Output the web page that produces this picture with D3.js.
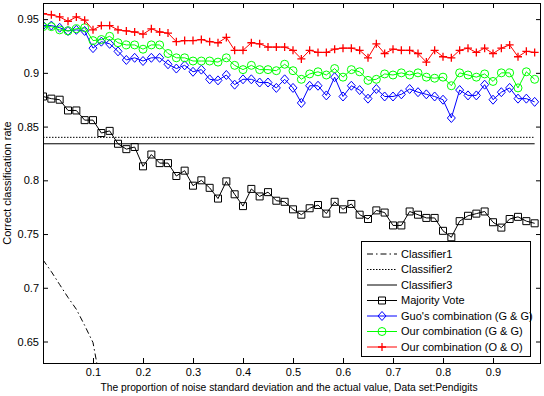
<!DOCTYPE html>
<html>
<head>
<meta charset="utf-8">
<script src="https://cdn.jsdelivr.net/npm/d3@7"></script>
<style>
  html, body { margin: 0; padding: 0; background: #fff; }
  svg { display: block; font-family: "Liberation Sans", Arial, sans-serif; }
</style>
</head>
<body>
<div class="container"></div>
<script>
// noise proportion (x) for every sample
const noiseLevels = [
  0, 0.0167, 0.0333, 0.05, 0.0667, 0.0833, 0.1, 0.1167, 0.1333, 0.15,
  0.1667, 0.1833, 0.2, 0.2167, 0.2333, 0.25, 0.2667, 0.2833, 0.3, 0.3167,
  0.3333, 0.35, 0.3667, 0.3833, 0.4, 0.4167, 0.4333, 0.45, 0.4667, 0.4833,
  0.5, 0.5167, 0.5333, 0.55, 0.5667, 0.5833, 0.6, 0.6167, 0.6333, 0.65,
  0.6667, 0.6833, 0.7, 0.7167, 0.7333, 0.75, 0.7667, 0.7833, 0.8, 0.8167,
  0.8333, 0.85, 0.8667, 0.8833, 0.9, 0.9167, 0.9333, 0.95, 0.9667, 0.9833,
];

// only the first points of classifier1 are inside the axes
const classifier1 = [0.726, 0.715, 0.703, 0.691, 0.680, 0.665, 0.649, 0.607];
const classifier2 = 0.840;
const classifier3 = 0.834;

const majorityVote = [
  0.878, 0.876, 0.875, 0.865, 0.865, 0.856, 0.856, 0.844, 0.846, 0.834,
  0.829, 0.831, 0.813, 0.824, 0.816, 0.816, 0.804, 0.809, 0.795, 0.800,
  0.793, 0.783, 0.799, 0.787, 0.776, 0.792, 0.785, 0.789, 0.781, 0.780,
  0.773, 0.768, 0.774, 0.777, 0.769, 0.780, 0.773, 0.778, 0.768, 0.764,
  0.772, 0.770, 0.758, 0.758, 0.771, 0.768, 0.765, 0.765, 0.753, 0.747,
  0.762, 0.767, 0.769, 0.771, 0.761, 0.756, 0.764, 0.766, 0.762, 0.760,
];

const guoGG = [
  0.944, 0.944, 0.942, 0.939, 0.940, 0.939, 0.923, 0.929, 0.927, 0.920,
  0.912, 0.914, 0.911, 0.914, 0.914, 0.908, 0.904, 0.907, 0.901, 0.903,
  0.894, 0.893, 0.898, 0.889, 0.894, 0.894, 0.891, 0.891, 0.886, 0.894,
  0.886, 0.872, 0.888, 0.888, 0.879, 0.896, 0.878, 0.888, 0.884, 0.876,
  0.885, 0.878, 0.878, 0.880, 0.885, 0.882, 0.880, 0.878, 0.875, 0.858,
  0.884, 0.879, 0.879, 0.889, 0.875, 0.882, 0.886, 0.876, 0.876, 0.873,
];

const ourGG = [
  0.943, 0.943, 0.940, 0.939, 0.941, 0.942, 0.930, 0.931, 0.934, 0.928,
  0.926, 0.926, 0.922, 0.926, 0.926, 0.918, 0.914, 0.914, 0.911, 0.911,
  0.911, 0.910, 0.914, 0.907, 0.903, 0.907, 0.903, 0.903, 0.902, 0.908,
  0.902, 0.894, 0.899, 0.901, 0.898, 0.904, 0.896, 0.903, 0.901, 0.893,
  0.894, 0.899, 0.898, 0.900, 0.898, 0.900, 0.896, 0.895, 0.896, 0.888,
  0.900, 0.898, 0.896, 0.899, 0.892, 0.900, 0.900, 0.886, 0.901, 0.894,
];

const ourOO = [
  0.955, 0.954, 0.952, 0.948, 0.952, 0.949, 0.940, 0.944, 0.944, 0.940,
  0.939, 0.938, 0.936, 0.941, 0.938, 0.937, 0.929, 0.930, 0.930, 0.931,
  0.929, 0.928, 0.933, 0.921, 0.921, 0.928, 0.927, 0.924, 0.924, 0.924,
  0.921, 0.913, 0.921, 0.919, 0.919, 0.922, 0.923, 0.923, 0.921, 0.914,
  0.927, 0.918, 0.922, 0.921, 0.921, 0.918, 0.910, 0.921, 0.915, 0.914,
  0.921, 0.923, 0.919, 0.923, 0.918, 0.923, 0.926, 0.915, 0.920, 0.919,
];

const xTicks = [0.1, 0.2, 0.3, 0.4, 0.5, 0.6, 0.7, 0.8, 0.9];
const yTicks = [0.65, 0.7, 0.75, 0.8, 0.85, 0.9, 0.95];

const legendLabels = [
  "Classifier1",
  "Classifier2",
  "Classifier3",
  "Majority Vote",
  "Guo's combination (G & G)",
  "Our combination (G & G)",
  "Our combination (O & O)",
];

const width = 544;
const height = 396;
const plot = { left: 43, right: 541, top: 3, bottom: 363 };

const svg = d3
  .select(".container")
  .append("svg")
  .attr("width", width)
  .attr("height", height);

const x = d3.scaleLinear().domain([0, 0.996]).range([plot.left, plot.right]);
const y = d3.scaleLinear().domain([0.63, 0.965]).range([plot.bottom, plot.top]);

svg
  .append("defs")
  .append("clipPath")
  .attr("id", "plot-clip")
  .append("rect")
  .attr("x", plot.left)
  .attr("y", plot.top)
  .attr("width", plot.right - plot.left)
  .attr("height", plot.bottom - plot.top);

const markers = {
  square: "M-3.5,-3.5h7v7h-7Z",
  diamond: "M0,-4.5L4,0L0,4.5L-4,0Z",
  plus: "M-4,0H4M0,-4V4",
};

function drawMarker(g, kind, cx, cy, color) {
  if (kind === "circle") {
    g.append("circle")
      .attr("cx", cx)
      .attr("cy", cy)
      .attr("r", 4)
      .attr("fill", "none")
      .attr("stroke", color);
    return;
  }
  g.append("path")
    .attr("d", markers[kind])
    .attr("transform", `translate(${cx},${cy})`)
    .attr("fill", "none")
    .attr("stroke", color)
    .attr("stroke-width", kind === "plus" ? 1.3 : 1);
}

const line = d3
  .line()
  .x((d) => x(d[0]))
  .y((d) => y(d[1]));

const plotArea = svg.append("g").attr("clip-path", "url(#plot-clip)");

function drawSeries(values, color, dash, marker) {
  const points = values.map((v, i) => [noiseLevels[i], v]);
  const g = plotArea.append("g");
  g.append("path")
    .attr("d", line(points))
    .attr("fill", "none")
    .attr("stroke", color)
    .attr("stroke-width", 1)
    .attr("stroke-dasharray", dash);
  if (marker) {
    points.forEach((p) => drawMarker(g, marker, x(p[0]), y(p[1]), color));
  }
}

function drawConstant(value, dash) {
  const first = noiseLevels[0];
  const last = noiseLevels[noiseLevels.length - 1];
  plotArea
    .append("line")
    .attr("x1", x(first))
    .attr("x2", x(last))
    .attr("y1", y(value))
    .attr("y2", y(value))
    .attr("stroke", "#000")
    .attr("stroke-width", 1)
    .attr("stroke-dasharray", dash);
}

drawSeries(classifier1, "#000", "6,3,1.5,3", null);
drawConstant(classifier2, "1.5,1.5");
drawConstant(classifier3, null);
drawSeries(majorityVote, "#000", null, "square");
drawSeries(guoGG, "#00f", null, "diamond");
drawSeries(ourGG, "#0f0", null, "circle");
drawSeries(ourOO, "#f00", null, "plus");

// axes, ticks inward on all four sides
function styleAxis(g) {
  g.select(".domain").remove();
  g.selectAll("line").attr("stroke", "#000");
  g.selectAll("text")
    .attr("fill", "#000")
    .style("font-size", "11px")
    .style("font-family", '"Liberation Sans", Arial, sans-serif');
}

svg
  .append("g")
  .attr("transform", `translate(0,${plot.bottom})`)
  .call(d3.axisBottom(x).tickValues(xTicks).tickSize(-5).tickPadding(5).tickFormat(d3.format("")))
  .call(styleAxis);

svg
  .append("g")
  .attr("transform", `translate(0,${plot.top})`)
  .call(d3.axisTop(x).tickValues(xTicks).tickSize(-5).tickFormat(""))
  .call(styleAxis);

svg
  .append("g")
  .attr("transform", `translate(${plot.left},0)`)
  .call(d3.axisLeft(y).tickValues(yTicks).tickSize(-5).tickPadding(4).tickFormat(d3.format("")))
  .call(styleAxis);

svg
  .append("g")
  .attr("transform", `translate(${plot.right},0)`)
  .call(d3.axisRight(y).tickValues(yTicks).tickSize(-5).tickFormat(""))
  .call(styleAxis);

svg
  .append("rect")
  .attr("x", plot.left + 0.5)
  .attr("y", plot.top + 0.5)
  .attr("width", plot.right - plot.left - 1)
  .attr("height", plot.bottom - plot.top)
  .attr("fill", "none")
  .attr("stroke", "#000");

svg
  .append("text")
  .attr("x", 289)
  .attr("y", 391)
  .attr("text-anchor", "middle")
  .style("font-size", "10.3px")
  .text("The proportion of noise standard deviation and the actual value, Data set:Pendigits");

svg
  .append("text")
  .attr("transform", `translate(11,${(plot.top + plot.bottom) / 2}) rotate(-90)`)
  .attr("text-anchor", "middle")
  .style("font-size", "11px")
  .text("Correct classification rate");

// legend
const legendStyles = [
  { color: "#000", dash: "6,3,1.5,3", marker: null },
  { color: "#000", dash: "1.5,1.5", marker: null },
  { color: "#000", dash: null, marker: null },
  { color: "#000", dash: null, marker: "square" },
  { color: "#00f", dash: null, marker: "diamond" },
  { color: "#0f0", dash: null, marker: "circle" },
  { color: "#f00", dash: null, marker: "plus" },
];

const legend = svg.append("g");
legend
  .append("rect")
  .attr("x", 361.5)
  .attr("y", 241.5)
  .attr("width", 169)
  .attr("height", 115)
  .attr("fill", "#fff")
  .attr("stroke", "#000");

legendLabels.forEach((label, i) => {
  const cy = 254 + i * 15.5;
  const style = legendStyles[i];
  legend
    .append("line")
    .attr("x1", 367)
    .attr("x2", 397)
    .attr("y1", cy)
    .attr("y2", cy)
    .attr("stroke", style.color)
    .attr("stroke-dasharray", style.dash);
  if (style.marker) drawMarker(legend, style.marker, 382, cy, style.color);
  legend
    .append("text")
    .attr("x", 401)
    .attr("y", cy)
    .attr("dy", "0.36em")
    .style("font-size", "11px")
    .text(label);
});
</script>
</body>
</html>
